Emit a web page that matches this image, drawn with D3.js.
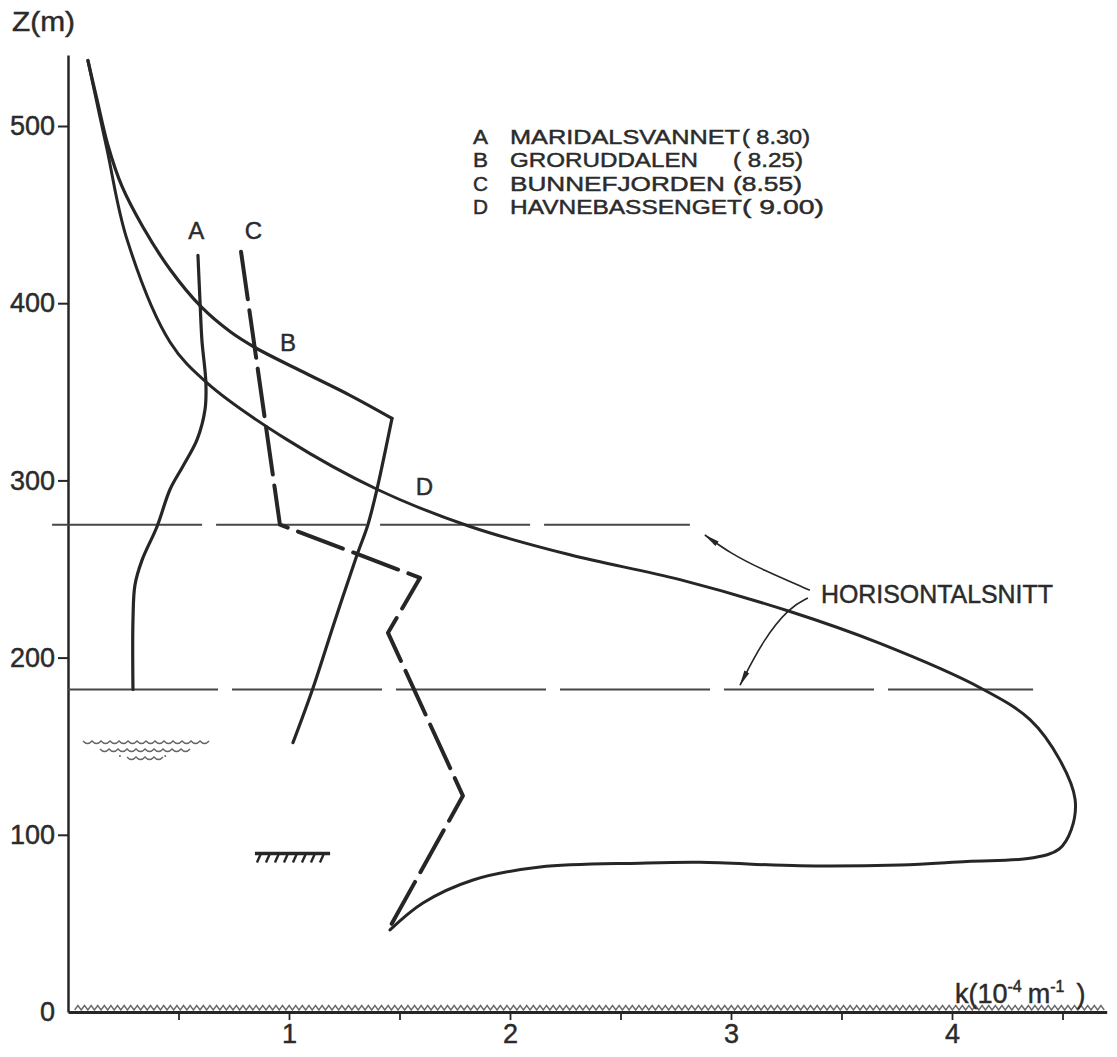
<!DOCTYPE html>
<html>
<head>
<meta charset="utf-8">
<script src="https://cdn.jsdelivr.net/npm/d3@7"></script>
<style>
body{margin:0;background:#fff}
text{font-family:"Liberation Sans",Arial,sans-serif;fill:#2b2b2b;stroke:#2b2b2b;stroke-width:0.45}
</style>
</head>
<body>
<svg id="chart" width="1117" height="1057"></svg>
<script>
// k in 10^-4 m^-1, z in m
var curveA = [[0.588,427],[0.597,402],[0.606,379],[0.624,355],[0.620,340],[0.584,323],[0.520,308],[0.462,295],[0.403,274],[0.335,255],[0.303,241],[0.294,221],[0.294,182]];
var curveBUpper = [[0.090,537],[0.131,515],[0.181,489],[0.244,466],[0.339,443],[0.462,419],[0.602,398],[0.733,384],[0.846,375],[1.050,362],[1.276,348],[1.466,335]];
var curveBLower = [[1.466,335],[1.398,295],[1.357,275],[1.308,258],[1.208,221],[1.109,183],[1.018,152]];
var curveC = [[0.783,429],[0.959,275],[1.593,245],[1.448,214],[1.787,122],[1.448,46]];
var curveD = [[0.090,537],[0.176,487],[0.267,436],[0.462,378],[0.629,355],[0.991,323],[1.398,295],[1.819,274],[2.271,258],[2.769,244],[3.267,226],[3.674,208],[4.127,183],[4.353,165],[4.489,142],[4.557,120],[4.540,103],[4.485,92],[4.367,87],[4.068,85],[3.765,83],[3.312,82.5],[2.860,84.5],[2.588,84],[2.136,81.8],[1.833,74.5],[1.606,61.5],[1.457,46.3]];

// horizontal sections
var sectionZ = [275, 182];
var sectionFrom = [-0.072, 0];
var sectionTo = [2.814, 4.367];

// labels on curves
var curveKeys = ['A','B','C','D'];
var curveLabelPos = [[0.580,436],[0.995,373],[0.839,436],[1.613,292]];

// legend
var legendNames = ['MARIDALSVANNET','GRORUDDALEN','BUNNEFJORDEN','HAVNEBASSENGET'];
var legendValues = ['( 8.30)','( 8.25)','(8.55)','( 9.00)'];

var yTicks = [0,100,200,300,400,500];
var xTicks = [0.5,1,1.5,2,2.5,3,3.5,4,4.5];
var xTickLabels = [1,2,3,4];

// arrows to the sections
var arrowUp = [[3.357,238],[3.145,249.4],[2.995,259],[2.882,269.2]];
var arrowDown = [[3.348,233.6],[3.267,228.6],[3.145,210],[3.041,184.5]];

var svg = d3.select('#chart');
var x = d3.scaleLinear().domain([0,4.7]).range([68,68+4.7*221]);
var y = d3.scaleLinear().domain([0,540]).range([1012,1012-540*1.772]);

var ink = '#262626';

svg.append('defs').append('marker')
  .attr('id','head').attr('viewBox','0 0 16 8').attr('refX',15).attr('refY',4)
  .attr('markerWidth',16).attr('markerHeight',8).attr('markerUnits','userSpaceOnUse')
  .attr('orient','auto')
  .append('path').attr('d','M0,1.2 L16,4 L0,6.8 Z').attr('fill',ink);

// y axis
var yAxis = d3.axisLeft(y).tickValues(yTicks).tickSize(10).tickSizeOuter(0).tickPadding(3);
var gy = svg.append('g').attr('transform','translate(68,0)').call(yAxis);
gy.select('.domain').attr('stroke',ink).attr('stroke-width',2.5);
gy.selectAll('.tick line').attr('stroke',ink).attr('stroke-width',2);
gy.selectAll('.tick text').attr('font-size',27).attr('fill',ink).attr('font-family','"Liberation Sans",Arial,sans-serif');
gy.selectAll('.tick').filter(function(d){return d===0;}).select('line').remove();

// x axis
var xAxis = d3.axisBottom(x).tickValues(xTicks).tickSize(8).tickSizeOuter(0)
  .tickFormat(function(d){ return xTickLabels.indexOf(d) >= 0 ? d : ''; }).tickPadding(4);
var gx = svg.append('g').attr('transform','translate(0,1012)').call(xAxis);
gx.select('.domain').attr('stroke',ink).attr('stroke-width',3);
gx.selectAll('.tick line').attr('stroke',ink).attr('stroke-width',1.8);
gx.selectAll('.tick text').attr('font-size',27).attr('fill',ink).attr('font-family','"Liberation Sans",Arial,sans-serif');

// wavy ground line on z = 0
var zig = d3.path();
var zx = x(0.03), zy = y(0) - 2;
zig.moveTo(zx, zy);
while (zx < x(4.68)) {
  zig.lineTo(zx + 3.3, zy - 4.5);
  zig.lineTo(zx + 6.6, zy);
  zx += 6.6;
}
svg.append('path').attr('d',zig.toString()).attr('fill','none').attr('stroke','#6a6a6a').attr('stroke-width',1.4);

// axis titles
svg.append('text').attr('x',12).attr('y',31).attr('font-size',27)
  .attr('textLength',63).attr('lengthAdjust','spacingAndGlyphs').text('Z(m)');
var kt = svg.append('text').attr('x',955).attr('y',1003).attr('font-size',27);
kt.append('tspan').text('k(10');
kt.append('tspan').attr('dy',-11).attr('font-size',16).text('-4');
kt.append('tspan').attr('dy',11).attr('dx',6).text('m');
kt.append('tspan').attr('dy',-11).attr('font-size',16).text('-1');
kt.append('tspan').attr('dy',11).attr('dx',12).text(')');

// horizontal sections
sectionZ.forEach(function(z, i) {
  svg.append('line')
    .attr('x1',x(sectionFrom[i])).attr('x2',x(sectionTo[i]))
    .attr('y1',y(z)).attr('y2',y(z))
    .attr('stroke','#474747').attr('stroke-width',2)
    .attr('stroke-dasharray','150,14');
});

var smooth = d3.line().x(function(d){return x(d[0]);}).y(function(d){return y(d[1]);}).curve(d3.curveCatmullRom.alpha(0.5));
var straight = d3.line().x(function(d){return x(d[0]);}).y(function(d){return y(d[1]);});

function drawCurve(data, gen, w, dash) {
  var p = svg.append('path').attr('d',gen(data)).attr('fill','none')
    .attr('stroke',ink).attr('stroke-width',w).attr('stroke-linecap','round').attr('stroke-linejoin','round');
  if (dash) p.attr('stroke-dasharray',dash);
  return p;
}
drawCurve(curveA, smooth, 3.2);
drawCurve(curveBUpper, smooth, 3.2);
drawCurve(curveBLower, smooth, 3.2);
drawCurve(curveD, smooth, 3);
drawCurve(curveC, straight, 4, '48,11');

// curve labels
curveKeys.forEach(function(k, i) {
  svg.append('text').attr('x',x(curveLabelPos[i][0])).attr('y',y(curveLabelPos[i][1]))
    .attr('font-size',24).attr('text-anchor','middle').text(k);
});

// legend
var nameWidths = [230,188,215,232];
var valueX = [742,733,733,742];
var valueWidths = [68,70,69,82];
curveKeys.forEach(function(k, i) {
  var ly = 144 + i * 23.3;
  svg.append('text').attr('x',473).attr('y',ly).attr('font-size',20).attr('textLength',15).attr('lengthAdjust','spacingAndGlyphs').text(k);
  svg.append('text').attr('x',510).attr('y',ly).attr('font-size',20)
    .attr('textLength',nameWidths[i]).attr('lengthAdjust','spacingAndGlyphs').text(legendNames[i]);
  svg.append('text').attr('x',valueX[i]).attr('y',ly).attr('font-size',20)
    .attr('textLength',valueWidths[i]).attr('lengthAdjust','spacingAndGlyphs').text(legendValues[i]);
});

// arrows + label
var arrowLine = d3.line().x(function(d){return x(d[0]);}).y(function(d){return y(d[1]);}).curve(d3.curveBasis);
[arrowUp, arrowDown].forEach(function(a) {
  svg.append('path').attr('d',arrowLine(a)).attr('fill','none').attr('stroke',ink)
    .attr('stroke-width',1.6).attr('marker-end','url(#head)');
});
svg.append('text').attr('x',x(3.407)).attr('y',y(230.8)).attr('font-size',25)
  .attr('textLength',232).attr('lengthAdjust','spacingAndGlyphs').text('HORISONTALSNITT');

// water surface symbol
var waterRows = [[0.068,0.611,152.9],[0.145,0.520,148.4],[0.267,0.407,143.9]];
waterRows.forEach(function(r) {
  var p = d3.path();
  var wx = x(r[0]), wy = y(r[2]);
  p.moveTo(wx, wy);
  while (wx < x(r[1]) - 1) {
    p.quadraticCurveTo(wx + 4.5, wy + 5, wx + 9, wy);
    wx += 9;
  }
  svg.append('path').attr('d',p.toString()).attr('fill','none').attr('stroke','#666').attr('stroke-width',1.5);
});
[[0.235,144.5],[0.44,144.5]].forEach(function(d) {
  svg.append('circle').attr('cx',x(d[0])).attr('cy',y(d[1])).attr('r',1).attr('fill','#666');
});

// bottom (ground) symbol
var groundK = [0.846,1.186], groundZ = 89.5;
svg.append('line').attr('x1',x(groundK[0])).attr('x2',x(groundK[1]))
  .attr('y1',y(groundZ)).attr('y2',y(groundZ)).attr('stroke',ink).attr('stroke-width',3.5);
for (var hx = x(groundK[0]) + 6; hx < x(groundK[1]) - 2; hx += 9) {
  svg.append('line').attr('x1',hx).attr('y1',y(groundZ)).attr('x2',hx - 4).attr('y2',y(groundZ) + 9)
    .attr('stroke',ink).attr('stroke-width',2.4);
}
</script>
</body>
</html>
